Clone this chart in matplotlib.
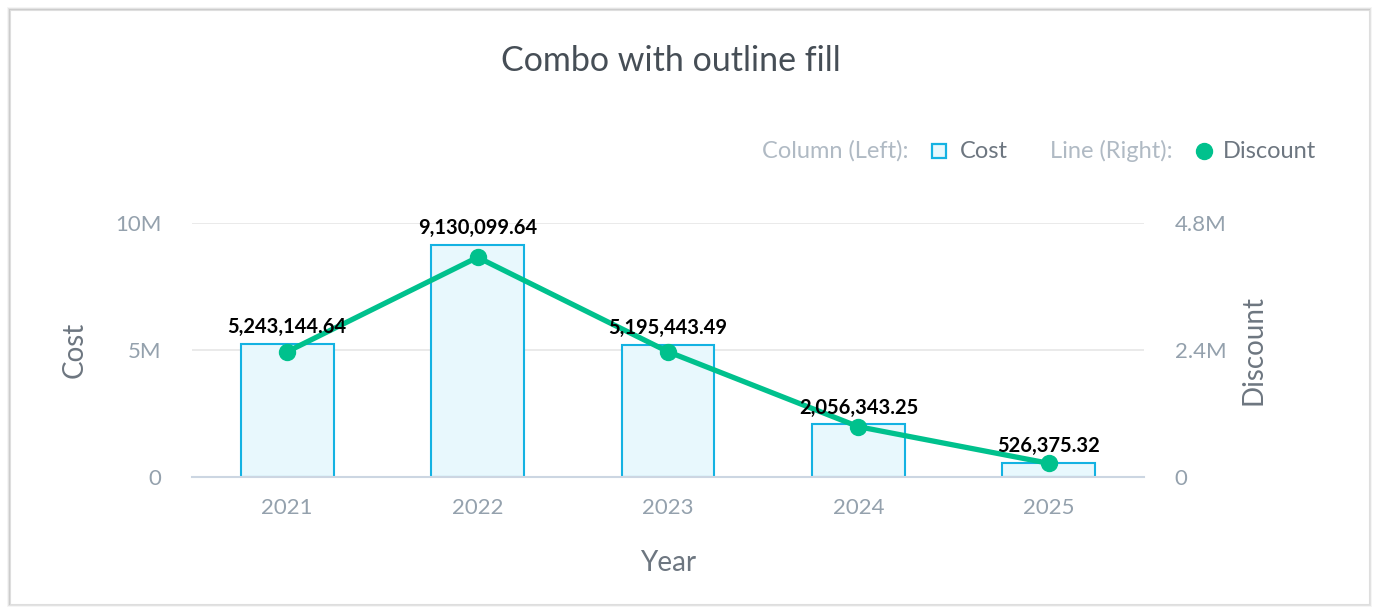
import matplotlib
matplotlib.use("Agg")
import matplotlib.pyplot as plt
from matplotlib.patches import Rectangle
from matplotlib.lines import Line2D

plt.rcParams['font.family'] = ['Lato', 'DejaVu Sans']

years = ["2021", "2022", "2023", "2024", "2025"]
cost = [5243144.64, 9130099.64, 5195443.49, 2056343.25, 526375.32]
discount = [2362000, 4146000, 2362000, 945000, 253000]
cost_ticks = [0, 5e6, 10e6]
cost_tick_labels = ["0", "5M", "10M"]
disc_ticks = [0, 2.4e6, 4.8e6]
disc_tick_labels = ["0", "2.4M", "4.8M"]

BAR_EDGE = "#14b2e2"
BAR_FILL = "#e8f8fd"
GREEN = "#00c18d"
TICK_C = "#94a1ad"
LABEL_C = "#6d7680"
TITLE_C = "#464e56"
LEG_GRAY = "#b0bac4"

W, H = 1380, 614
fig = plt.figure(figsize=(W / 100, H / 100), dpi=100)
fig.patch.set_facecolor("white")

# card with soft shadow
for i, a in enumerate([0.04, 0.07, 0.10]):
    d = 3 - i
    fig.patches.append(Rectangle(((10 - d) / W, (H - 604 - d) / H), (1359 + 2 * d) / W, (594 + 2 * d) / H,
                                 transform=fig.transFigure, facecolor=(0, 0, 0, a), edgecolor="none", zorder=-3))
fig.patches.append(Rectangle((10 / W, (H - 604) / H), 1359 / W, 594 / H, transform=fig.transFigure,
                             facecolor="white", edgecolor="#dedede", linewidth=0.8, zorder=-2))

left, right, top, bottom = 192, 1144, 222.7, 476.7
ax = fig.add_axes([left / W, 1 - bottom / H, (right - left) / W, (bottom - top) / H])
ax.set_facecolor("none")
ax2 = ax.twinx()

x = list(range(len(years)))
ax.bar(x, cost, width=0.487, color=BAR_FILL, edgecolor=BAR_EDGE, linewidth=1.5, zorder=2)
ax.set_xlim(-0.5, len(years) - 0.5)
ax.set_ylim(0, 10e6)
ax.set_yticks(cost_ticks)
ax.set_yticklabels(cost_tick_labels)
ax.set_xticks(x)
ax.set_xticklabels(years)
ax.grid(axis="y", color="#e6e6e6", linewidth=1.2, zorder=0)
ax.set_axisbelow(True)
for s in ["top", "right", "left"]:
    ax.spines[s].set_visible(False)
ax.spines["bottom"].set_color("#ccd6e2")
ax.spines["bottom"].set_linewidth(1.5)
ax.tick_params(axis="both", length=0, labelsize=16, colors=TICK_C)
ax.tick_params(axis="x", pad=15.5)
ax.tick_params(axis="y", pad=22)
ax.set_ylabel("Cost", fontsize=20, color=LABEL_C, labelpad=20)
ax.set_xlabel("Year", fontsize=20, color=LABEL_C, labelpad=23)

ax2.plot(x, discount, color=GREEN, linewidth=3.8, marker="o", markersize=11.5, zorder=3,
         solid_capstyle="round")
ax2.set_ylim(0, 4.8e6)
ax2.set_yticks(disc_ticks)
ax2.set_yticklabels(disc_tick_labels)
for s in ["top", "right", "left", "bottom"]:
    ax2.spines[s].set_visible(False)
ax2.tick_params(axis="y", length=0, labelsize=16, colors=TICK_C, pad=22)
ax2.set_ylabel("Discount", fontsize=20, color=LABEL_C, labelpad=10)
ax2.set_zorder(1)

for xi, v in zip(x, cost):
    ax2.annotate(f"{v:,.2f}", xy=(xi, v * 0.48), xytext=(0, 5), textcoords="offset points",
                 ha="center", va="bottom", fontsize=14.5, fontweight="bold", color="black", zorder=5)

fig.text(671 / W, 1 - 61 / H, "Combo with outline fill", ha="center", va="center",
         fontsize=24.5, color=TITLE_C)

# legend
ly = 1 - 151 / H
fs = 17
fig.text(1223 / W, ly, "Discount", ha="left", va="center", fontsize=fs, color=LABEL_C)
fig.lines.append(Line2D([1204 / W], [ly], transform=fig.transFigure, marker="o", markersize=11.5,
                        color=GREEN, linestyle="none"))
fig.text(1173 / W, ly, "Line (Right):", ha="right", va="center", fontsize=fs, color=LEG_GRAY)
fig.text(960 / W, ly, "Cost", ha="left", va="center", fontsize=fs, color=LABEL_C)
fig.lines.append(Line2D([939 / W], [ly], transform=fig.transFigure, marker="s", markersize=10.5,
                        markerfacecolor=BAR_FILL, markeredgecolor=BAR_EDGE, markeredgewidth=1.6,
                        linestyle="none"))
fig.text(909 / W, ly, "Column (Left):", ha="right", va="center", fontsize=fs, color=LEG_GRAY)

fig.savefig("out.png", dpi=100)
